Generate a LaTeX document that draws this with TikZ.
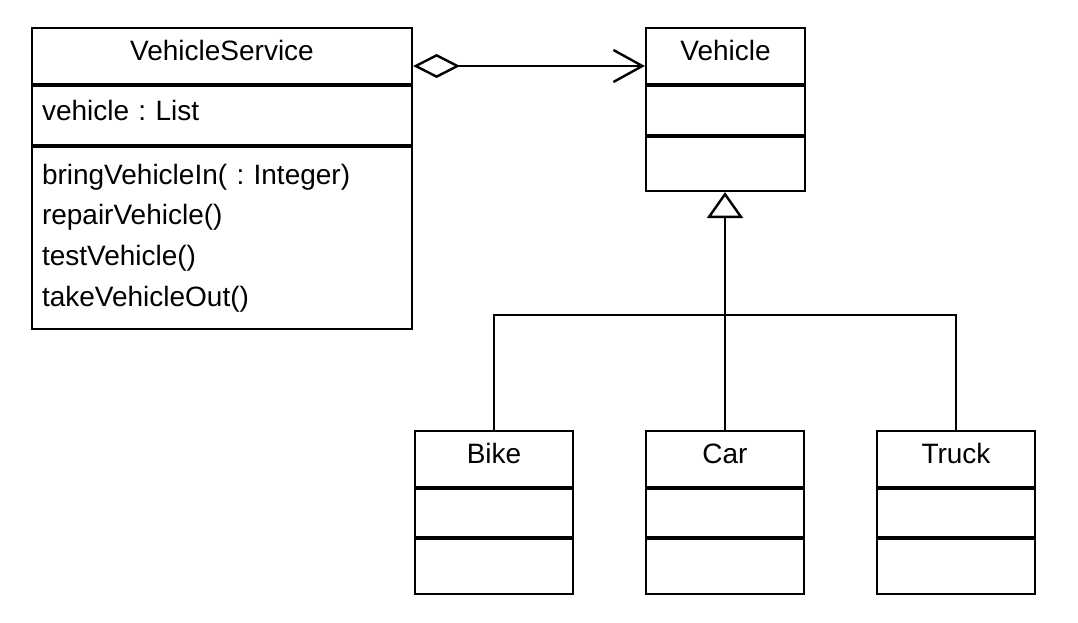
\documentclass[tikz,border=0pt]{standalone}
\usepackage{fontspec}
\setmainfont{Liberation Sans}
\frenchspacing
\usetikzlibrary{arrows.meta}
\tikzset{
	part/.style={draw, line width=2.2pt, inner sep=0pt, font=\fontsize{28}{40.7}\selectfont},
	title/.style={part, minimum height=58, text height=18pt, text depth=11pt},
	list/.style={part, text width=#1, align=left},
	divider/.style={line width=4pt},
	conn/.style={line width=2.4pt},
}

\begin{document}
\begin{tikzpicture}[x=1pt,y=-1pt]
	\useasboundingbox (0,0) rectangle (1078,623);
	
	\node[title, minimum width=380] at (222,57)(vsT){VehicleService};
	\node[list=360, minimum width=380, minimum height=61, text height=18pt, text depth=10pt] at (222,116.5)(vsA){vehicle : List};
	\node[list=360, minimum width=380, minimum height=182] at (222,238)(vsM){bringVehicleIn( : Integer)\\repairVehicle()\\testVehicle()\\takeVehicleOut()};
	\draw[divider](vsA.north west)--(vsA.north east)(vsM.north west)--(vsM.north east);
	
	\node[title, minimum width=159] at (725.5,57)(vT){Vehicle};
	\node[part, minimum width=159, minimum height=51] at (725.5,111.5)(vA){};
	\node[part, minimum width=159, minimum height=54] at (725.5,164)(vM){};
	\draw[divider](vA.north west)--(vA.north east)(vM.north west)--(vM.north east);
	
	\node[title, minimum width=158] at (494,460)(bT){Bike};
	\node[part, minimum width=158, minimum height=50] at (494,514)(bA){};
	\node[part, minimum width=158, minimum height=55] at (494,566.5)(bM){};
	\draw[divider](bA.north west)--(bA.north east)(bM.north west)--(bM.north east);
	
	\node[title, minimum width=158] at (725,460)(cT){Car};
	\node[part, minimum width=158, minimum height=50] at (725,514)(cA){};
	\node[part, minimum width=158, minimum height=55] at (725,566.5)(cM){};
	\draw[divider](cA.north west)--(cA.north east)(cM.north west)--(cM.north east);
	
	\node[title, minimum width=158] at (956,460)(tT){Truck};
	\node[part, minimum width=158, minimum height=50] at (956,514)(tA){};
	\node[part, minimum width=158, minimum height=55] at (956,566.5)(tM){};
	\draw[divider](tA.north west)--(tA.north east)(tM.north west)--(tM.north east);
	
	\coordinate (j) at (725,315);
	\draw[conn, {Diamond[open,length=47pt,width=24pt]}-{Straight Barb[length=29pt,width=32pt]}]
		([yshift=-9pt]vsT.east)--([yshift=-9pt]vsT.east -| vT.west);
	\draw[conn, -{Triangle[open,length=26pt,width=36pt]}](cT.north)--(cT.north |- vM.south);
	\draw[conn](bT.north)|-(j)-|(tT.north);
\end{tikzpicture}
\end{document}
